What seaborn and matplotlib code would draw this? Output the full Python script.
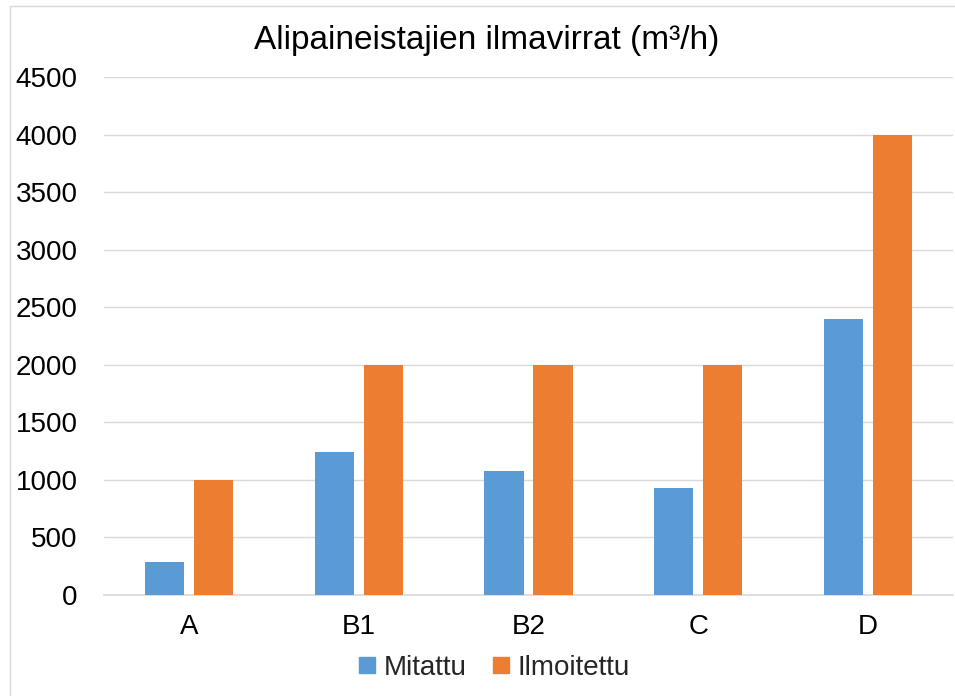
import matplotlib
matplotlib.use("Agg")
import matplotlib.pyplot as plt
import seaborn as sns
import pandas as pd
from matplotlib.patches import Rectangle
from matplotlib.lines import Line2D

categories = ["A", "B1", "B2", "C", "D"]
mitattu = [290, 1240, 1080, 930, 2400]
ilmoitettu = [1000, 2000, 2000, 2000, 4000]
series_names = ["Mitattu", "Ilmoitettu"]
colors = ["#5B9BD5", "#ED7D31"]
title = "Alipaineistajien ilmavirrat (m³/h)"

df = pd.DataFrame({
    "cat": categories * 2,
    "val": mitattu + ilmoitettu,
    "series": [series_names[0]] * len(categories) + [series_names[1]] * len(categories),
})

sns.set_theme(style="white")
plt.rcParams["font.family"] = ["Liberation Sans", "DejaVu Sans"]

W, H = 955, 696
fig = plt.figure(figsize=(W / 100, H / 100), dpi=100)
ax = fig.add_axes([104 / W, (H - 595) / H, (953 - 104) / W, (595 - 77) / H])

sns.barplot(data=df, x="cat", y="val", hue="series", palette=colors,
            saturation=1, width=0.576, gap=0.2, ax=ax, legend=False, linewidth=0,
            order=categories, hue_order=series_names, zorder=3)

ax.set_ylim(0, 4500)
ax.set_xlim(-0.5, len(categories) - 0.5)
ax.set_yticks(range(0, 4501, 500))
ax.yaxis.grid(True, color="#D9D9D9", linewidth=1.0, zorder=0)
ax.set_axisbelow(True)
ax.set_xlabel("")
ax.set_ylabel("")
for s in ["top", "right", "left"]:
    ax.spines[s].set_visible(False)
ax.spines["bottom"].set_color("#D9D9D9")
ax.spines["bottom"].set_linewidth(1.2)
ax.tick_params(axis="y", length=0, pad=19, labelsize=20, labelcolor="#000000")
ax.tick_params(axis="x", length=0, pad=14, labelsize=20, labelcolor="#000000")

fig.text(487 / W, 1 - 40 / H, title, ha="center", va="center", fontsize=24, color="#000000")

handles = [Line2D([], [], marker="s", linestyle="none", markersize=11,
                  markerfacecolor=c, markeredgecolor=c) for c in colors]
fig.legend(handles, series_names, loc="center", bbox_to_anchor=(493 / W, 1 - 668 / H),
           ncol=2, frameon=False, fontsize=20, handletextpad=0.2, columnspacing=0.85,
           handlelength=0.8)

fig.patches.append(Rectangle((10 / W, -0.1), 1.2, 1.1 - 6 / H, transform=fig.transFigure,
                             fill=False, edgecolor="#D9D9D9", linewidth=1))

fig.savefig("out.png", dpi=100)
